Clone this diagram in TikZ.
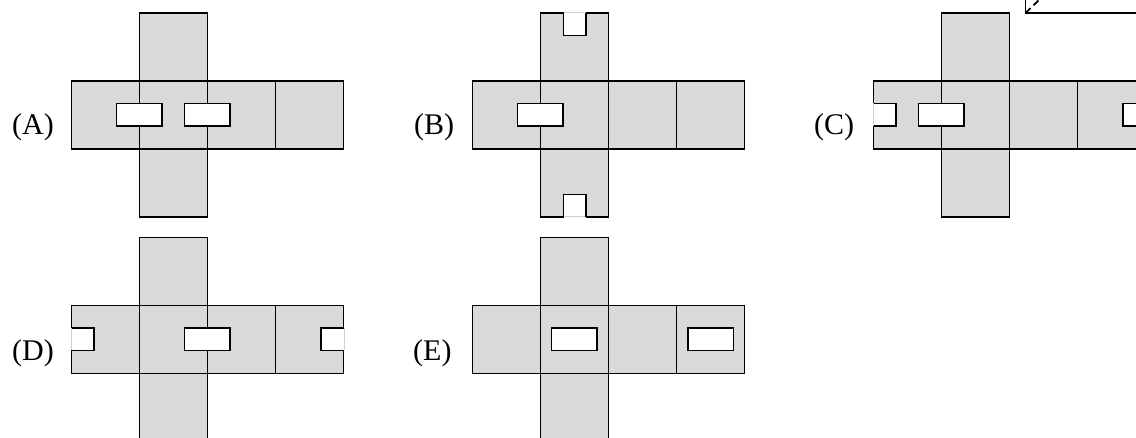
\documentclass[tikz,border=0pt]{standalone}
\usepackage{fontspec}
\setmainfont{Liberation Serif}
\definecolor{netgray}{HTML}{D9D9D9}
\definecolor{openedge}{HTML}{D0D0D0}
\tikzset{
  netline/.style={draw=black,line width=1.7pt,line join=miter},
  netfill/.style={fill=netgray,draw=none},
  hole/.style={fill=white,draw=none},
  lab/.style={anchor=base west,font=\fontsize{30}{30}\selectfont,inner sep=0pt,text=black},
}
% cross-shaped net; #1,#2 = left end of the strip, top of the upper flap
\newcommand{\crossnet}[2]{%
  \begin{scope}[shift={(#1,#2)}]
    \path[netfill] (68,0) rectangle (136,204) (0,68) rectangle (272,136);
    \draw[netline] (68,68) -- (68,0) -- (136,0) -- (136,68) -- (272,68) -- (272,136)
      -- (136,136) -- (136,204) -- (68,204) -- (68,136) -- (0,136) -- (0,68) -- cycle;
    \draw[netline] (68,68) -- (68,136) (136,68) -- (136,136) (204,68) -- (204,136)
      (68,68) -- (136,68) (68,136) -- (136,136);
  \end{scope}}
% closed slot; #1,#2 = its top-left corner
\newcommand{\slotbox}[2]{%
  \path[hole] (#1,#2) rectangle ++(45.5,22.5);
  \draw[netline] (#1,#2) rectangle ++(45.5,22.5);}
\begin{document}
\begin{tikzpicture}[x=1pt,y=-1pt]
\clip (0,0) rectangle (1136,438);
\path[fill=white] (0,0) rectangle (1136,438);
% top-right fragment
\draw[netline] (1025.5,0) -- (1025.5,13) -- (1136,13);
\draw[black,line width=1.7pt,dash pattern=on 7pt off 4pt] (1025.5,13) -- (1040,-1);
% A
\crossnet{71.5}{13}
\slotbox{116.5}{103.5}
\slotbox{184.5}{103.5}
\node[lab] (la) at (12,135) {(A)};
% B
\crossnet{472.5}{13}
\slotbox{517.5}{103.5}
\path[hole] (563.5,11) rectangle (586,35.5);
\path[hole] (563.5,194.5) rectangle (586,219);
\draw[openedge,line width=1pt] (563.5,13) -- (586,13) (563.5,217) -- (586,217);
\draw[netline] (563.5,13) -- (563.5,35.5) -- (586,35.5) -- (586,13);
\draw[netline] (563.5,217) -- (563.5,194.5) -- (586,194.5) -- (586,217);
\node[lab] (lb) at (414,135) {(B)};
% C
\crossnet{873.5}{13}
\slotbox{918.5}{103.5}
\path[hole] (871,103.5) rectangle (896,126);
\draw[openedge,line width=1pt] (873,103.5) -- (873,126);
\draw[netline] (873.5,103.5) -- (896,103.5) -- (896,126) -- (873.5,126);
\slotbox{1123}{103.5}
\node[lab] (lc) at (814,135) {(C)};
% D
\crossnet{71.5}{237.5}
\slotbox{184.5}{328}
\path[hole] (69,328) rectangle (94,350.5);
\path[hole] (321,328) rectangle (346,350.5);
\draw[openedge,line width=1pt] (71,328) -- (71,350.5) (344,328) -- (344,350.5);
\draw[netline] (71.5,328) -- (94,328) -- (94,350.5) -- (71.5,350.5);
\draw[netline] (343.5,328) -- (321,328) -- (321,350.5) -- (343.5,350.5);
\node[lab] (ld) at (12,360.5) {(D)};
% E
\crossnet{472.5}{237.5}
\slotbox{551.5}{328}
\slotbox{688}{328}
\node[lab] (le) at (413,360.5) {(E)};
\end{tikzpicture}
\end{document}
